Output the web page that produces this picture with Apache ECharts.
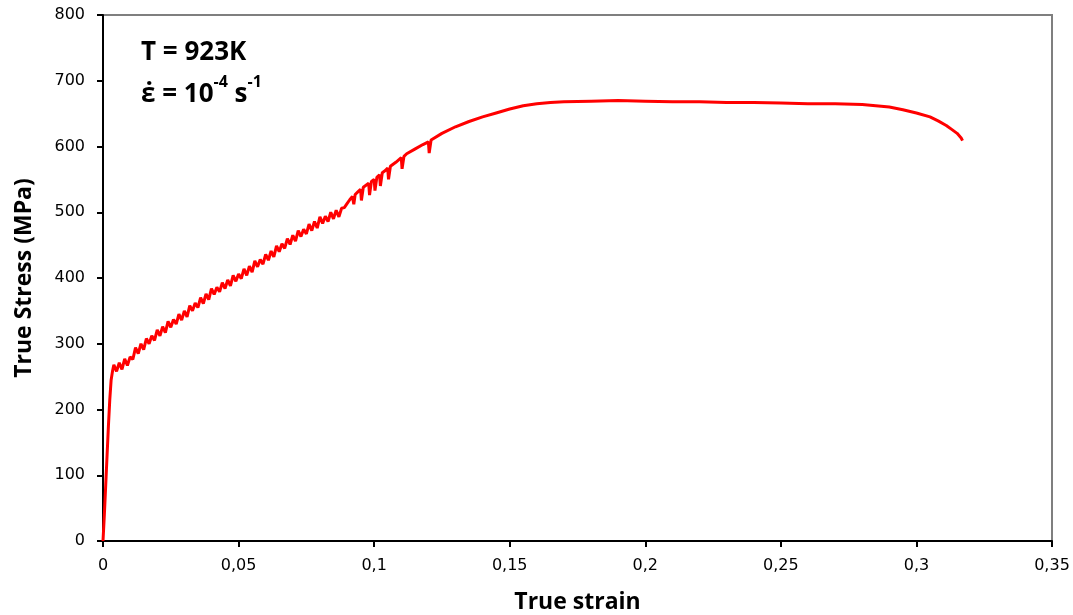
<!DOCTYPE html>
<html>
<head>
<meta charset="utf-8">
<script src="https://cdn.jsdelivr.net/npm/echarts@6/dist/echarts.min.js"></script>
<style>html,body{margin:0;padding:0;background:#fff}#c{width:1073px;height:615px}</style>
</head>
<body>
<div id="c"></div>
<script>
// True strain (x) and true stress in MPa (y)
var strain = [
0,0.0005,0.001,0.0015,0.002,0.0025,0.003,0.0035,
0.004,0.005,0.006,0.007,0.008,0.009,0.010,0.011,0.012,0.013,0.014,0.015,0.016,0.017,0.018,0.019,
0.020,0.021,0.022,0.023,0.024,0.025,0.026,0.027,0.028,0.029,0.030,0.031,0.032,0.033,0.034,0.035,
0.036,0.037,0.038,0.039,0.040,0.041,0.042,0.043,0.044,0.045,0.046,0.047,0.048,0.049,0.050,0.051,
0.052,0.053,0.054,0.055,0.056,0.057,0.058,0.059,0.060,0.061,0.062,0.063,0.064,0.065,0.066,0.067,
0.068,0.069,0.070,0.071,0.072,0.073,0.074,0.075,0.076,0.077,0.078,0.079,0.080,0.081,0.082,0.083,
0.084,0.085,0.086,0.087,0.088,
0.089,0.090,0.091,0.092,0.0925,0.093,0.094,0.095,0.0953,0.096,0.097,0.098,0.0983,0.099,0.100,0.1003,0.101,
0.102,0.1023,0.103,0.104,0.105,0.1053,0.106,0.108,0.110,0.1103,0.111,0.112,0.115,0.118,0.120,0.1203,0.121,
0.125,0.130,0.135,0.140,0.145,0.150,0.155,0.160,0.165,0.170,0.180,0.190,0.200,0.210,0.220,0.230,0.240,
0.250,0.260,0.270,0.280,0.285,0.290,0.295,0.300,0.305,0.308,0.311,0.313,0.315,0.3165,0.317
];
var stress = [
0,40,85,130,175,215,245,258,
268,258,271,261,277,267,280,276,294,285,300,291,308,300,312,305,
321,312,326,317,334,325,337,330,345,336,350,341,358,350,362,355,
370,361,376,367,384,375,386,379,393,384,397,388,404,395,406,399,
414,404,418,409,426,417,428,421,436,427,441,432,449,440,452,445,
460,451,465,456,472,463,474,467,482,472,486,476,493,483,494,486,
500,490,503,493,506,
507,513,519,524,512,527,531,535,518,538,541,544,526,547,550,533,553,
557,540,560,563,567,550,570,576,583,566,585,589,596,603,607,590,610,
620,630,638,645,651,657,662,665,667,668,669,670,669,668,668,667,667,
666,665,665,664,662,660,656,651,645,639,632,626,620,613,609
];
var xTicks = {min: 0, max: 0.35, interval: 0.05};
var yTicks = {min: 0, max: 800, interval: 100};
var note1 = 'T = 923K';

var data = strain.map(function (x, i) { return [x, stress[i]]; });
var chart = echarts.init(document.getElementById('c'), null, {renderer: 'canvas'});
var tickFont = {fontFamily: 'DejaVu Sans', fontSize: 16, color: '#000'};
var titleFont = {fontFamily: 'Open Sans', fontWeight: 'bold', fontSize: 23, color: '#000'};
chart.setOption({
  animation: false,
  backgroundColor: '#fff',
  grid: {left: 103, right: 21, top: 15, bottom: 74, containLabel: false, outerBoundsMode: 'none',
         show: true, borderColor: '#7f7f7f', borderWidth: 2},
  title: [{
    left: 136, top: 27,
    text: '{a|' + note1 + '}\n{a|\u03B5\u0307 = 10}{s|-4}{a| s}{s|-1}',
    textStyle: {
      rich: {
        a: {fontFamily: 'Open Sans', fontWeight: 'bold', fontSize: 26, color: '#000', lineHeight: 42},
        s: {fontFamily: 'Open Sans', fontWeight: 'bold', fontSize: 16, color: '#000', verticalAlign: 'top', lineHeight: 42, padding: [0, 0, 14, 0]}
      }
    }
  }],
  xAxis: {
    type: 'value', min: xTicks.min, max: xTicks.max, interval: xTicks.interval,
    name: 'True strain', nameLocation: 'middle', nameGap: 50,
    nameTextStyle: titleFont,
    axisLine: {show: true, lineStyle: {color: '#000', width: 2}},
    axisTick: {show: true, inside: false, length: 6, lineStyle: {color: '#000', width: 2}},
    axisLabel: Object.assign({margin: 17, formatter: function (v) { return String(+v.toFixed(2)).replace('.', ','); }}, tickFont),
    splitLine: {show: false}
  },
  yAxis: {
    type: 'value', min: yTicks.min, max: yTicks.max, interval: yTicks.interval,
    name: 'True Stress (MPa)', nameLocation: 'middle', nameGap: 67,
    nameTextStyle: titleFont,
    axisLine: {show: true, lineStyle: {color: '#000', width: 2}},
    axisTick: {show: true, inside: false, length: 6, lineStyle: {color: '#000', width: 2}},
    axisLabel: Object.assign({margin: 18}, tickFont),
    splitLine: {show: false}
  },
  series: [{
    type: 'line', data: data, showSymbol: false, symbol: 'none',
    lineStyle: {color: '#ff0000', width: 3}, z: 3
  }]
});
</script>
</body>
</html>
